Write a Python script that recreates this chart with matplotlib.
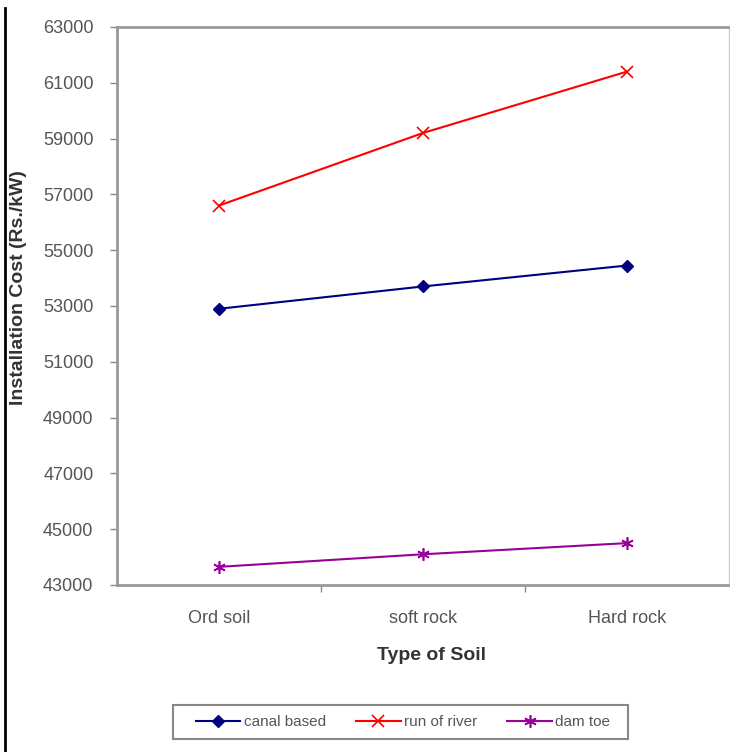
import matplotlib
matplotlib.use('Agg')
import matplotlib.pyplot as plt
from matplotlib.lines import Line2D
from matplotlib.patches import Rectangle

# ── Data ──
soil_types = ['Ord soil', 'soft rock', 'Hard rock']
canal_based = [52900, 53700, 54450]
run_of_river = [56600, 59200, 61400]
dam_toe = [43650, 44100, 44500]
y_ticks = list(range(43000, 63001, 2000))

plt.rcParams['font.family'] = ['Liberation Sans', 'DejaVu Sans']

fig = plt.figure(figsize=(7.3, 7.52), dpi=100)
ax = fig.add_axes([0.1603, 0.2221, 0.838, 0.742])

x = list(range(len(soil_types)))
ax.plot(x, canal_based, color='#000080', lw=1.5, marker='D', ms=6,
        mfc='#000080', mec='#000080', label='canal based')
ax.plot(x, run_of_river, color='#ff0000', lw=1.5, marker='x', ms=9,
        mew=1.2, label='run of river')
ax.plot(x, dam_toe, color='#990099', lw=1.5, marker=(6, 2, 0), ms=9,
        mew=1.2, label='dam toe')

ax.set_xlim(-0.5, len(soil_types) - 0.5)
ax.set_ylim(43000, 63000)
ax.set_yticks(y_ticks)
ax.set_yticklabels([str(v) for v in y_ticks])
ax.set_xticks(x)
ax.set_xticklabels(soil_types)
ax.set_xticks([0.5, 1.5], minor=True)

ax.tick_params(axis='y', direction='out', length=5, width=1, color='#888888',
               labelcolor='#555555', labelsize=13, pad=12)
ax.tick_params(axis='x', which='major', length=0, labelcolor='#555555',
               labelsize=13, pad=18)
ax.tick_params(axis='x', which='minor', direction='out', length=5, width=1,
               color='#888888')

for side in ['left', 'top', 'bottom']:
    ax.spines[side].set_color('#999999')
    ax.spines[side].set_linewidth(2)
ax.spines['right'].set_color('#cccccc')
ax.spines['right'].set_linewidth(1)

ax.set_xlabel('Type of Soil', fontsize=14, fontweight='bold', color='#333333')
ax.xaxis.set_label_coords(0.514, -0.112)
fig.text(0.025, 0.617, 'Installation Cost (Rs./kW)', rotation=90,
         fontsize=14, fontweight='bold', color='#333333',
         ha='center', va='center')

handles, labels = ax.get_legend_handles_labels()
leg = fig.legend(handles, labels, loc='center', bbox_to_anchor=(0.552, 0.040),
                 ncol=3, frameon=False, fontsize=11, handlelength=2.9,
                 handletextpad=0.2, columnspacing=2.0, labelcolor='#555555')
fig.add_artist(Rectangle((173 / 730, 1 - 739 / 752), 455 / 730, 34 / 752,
                         transform=fig.transFigure, fill=False,
                         edgecolor='#888888', lw=1.5))

# page border on the left
fig.add_artist(Line2D([0.007, 0.007], [0.0, 0.989], color='black', lw=2,
                      transform=fig.transFigure))

fig.savefig('out.png', dpi=100)
